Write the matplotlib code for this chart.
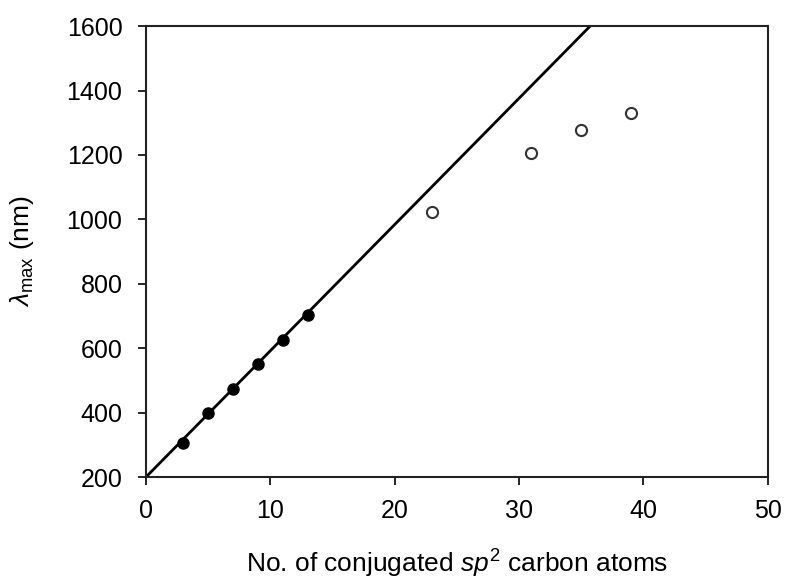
import numpy as np
import matplotlib
matplotlib.use("Agg")
import matplotlib.pyplot as plt

plt.rcParams['font.family'] = ['Liberation Sans', 'DejaVu Sans']
plt.rcParams['mathtext.fontset'] = 'custom'
plt.rcParams['mathtext.rm'] = 'Liberation Sans'
plt.rcParams['mathtext.it'] = 'Liberation Sans:italic'

# measured points (filled) and longer chains (open)
n_fit = [3, 5, 7, 9, 11, 13]
lam_fit = [306, 398, 474, 551, 625, 704]
n_long = [23, 31, 35, 39]
lam_long = [1022, 1207, 1278, 1329]

# linear trend line
slope = 39.2
intercept = 200
line_x = np.array([0, 50])

fig = plt.figure(figsize=(7.85, 5.81), dpi=100)
ax = fig.add_axes([0.186, 0.179, 0.792, 0.776])

ax.plot(line_x, slope * line_x + intercept, color='black', lw=2, zorder=2)
ax.plot(n_fit, lam_fit, 'o', color='black', ms=8, zorder=3)
ax.plot(n_long, lam_long, 'o', mfc='white', mec='#333333', mew=1.5, ms=8, zorder=3)

ax.set_xlim(0, 50)
ax.set_ylim(200, 1600)
ax.set_xticks([0, 10, 20, 30, 40, 50])
ax.set_yticks(np.arange(200, 1601, 200))

for s in ax.spines.values():
    s.set_linewidth(1.5)
    s.set_color('#222222')
ax.tick_params(direction='out', length=6, width=1.2, labelsize=18, colors='black')
ax.tick_params(axis='x', pad=10)
ax.tick_params(axis='y', pad=11)

ax.set_xlabel(r'No. of conjugated $\mathit{sp}^{2}$ carbon atoms', fontsize=19, labelpad=18)
ax.set_ylabel(r'$\mathit{\lambda}_{\mathrm{max}}$ (nm)', fontsize=19, labelpad=22)

fig.savefig('out.png', dpi=100)
